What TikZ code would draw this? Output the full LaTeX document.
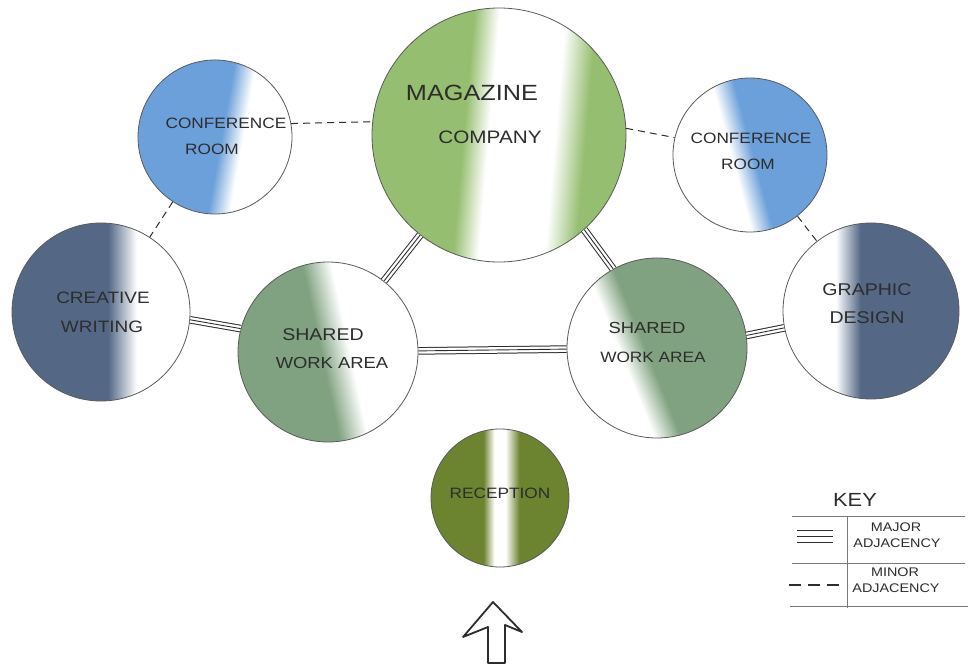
\documentclass[tikz,border=0pt]{standalone}
\usepackage{fontspec}
\newfontfamily\hand[FakeStretch=1.15]{Liberation Sans}
\definecolor{confblue}{RGB}{108,160,218}
\definecolor{slate}{RGB}{84,104,134}
\definecolor{sage}{RGB}{128,162,128}
\definecolor{maggreen}{RGB}{150,190,112}
\definecolor{olive}{RGB}{108,132,48}
\definecolor{inkc}{RGB}{45,45,45}
\definecolor{rimc}{RGB}{90,90,90}
\definecolor{keyc}{RGB}{120,120,120}
\pgfdeclarehorizontalshading{shconfL}{100bp}{color(0bp)=(confblue); color(52bp)=(confblue); color(59bp)=(white); color(100bp)=(white)}
\pgfdeclarehorizontalshading{shconfR}{100bp}{color(0bp)=(white); color(44bp)=(white); color(51bp)=(confblue); color(100bp)=(confblue)}
\pgfdeclarehorizontalshading{shcreat}{100bp}{color(0bp)=(slate); color(52bp)=(slate); color(60bp)=(white); color(100bp)=(white)}
\pgfdeclarehorizontalshading{shgraph}{100bp}{color(0bp)=(white); color(40bp)=(white); color(47bp)=(slate); color(100bp)=(slate)}
\pgfdeclarehorizontalshading{shsharL}{100bp}{color(0bp)=(sage); color(48bp)=(sage); color(56bp)=(white); color(100bp)=(white)}
\pgfdeclarehorizontalshading{shsharR}{100bp}{color(0bp)=(white); color(40bp)=(white); color(47bp)=(sage); color(100bp)=(sage)}
\pgfdeclarehorizontalshading{shmag}{100bp}{color(0bp)=(maggreen); color(43bp)=(maggreen); color(48bp)=(white); color(61bp)=(white); color(67bp)=(maggreen); color(100bp)=(maggreen)}
\pgfdeclarehorizontalshading{shrecep}{100bp}{color(0bp)=(olive); color(44bp)=(olive); color(48bp)=(white); color(52bp)=(white); color(57bp)=(olive); color(100bp)=(olive)}
\tikzset{
  room/.style={circle, draw=rimc, line width=0.8pt, inner sep=0pt, minimum size=#1, shade},
  major/.style={draw=inkc, line width=0.9pt,
    preaction={draw=inkc, line width=7.6pt},
    preaction={draw=white, line width=5.6pt}},
  minor/.style={draw=inkc, line width=1pt, dash pattern=on 7pt off 5pt},
  lbl/.style={font=\hand\fontsize{#1}{#1}\selectfont, text=inkc, inner sep=0pt},
  keyline/.style={draw=keyc, line width=0.8pt}
}
\begin{document}
\begin{tikzpicture}[x=1pt,y=-1pt]
\useasboundingbox[fill=white] (0,0) rectangle (977,671);

% rooms
\node[room=254pt, shading=shmag, shading angle=-5] (mag) at (499,135) {};
\node[room=154pt, shading=shconfL, shading angle=-10] (confL) at (215,137) {};
\node[room=154pt, shading=shconfR, shading angle=15] (confR) at (750,155) {};
\node[room=178pt, shading=shcreat] (creat) at (101,312) {};
\node[room=176pt, shading=shgraph] (graph) at (871,311) {};
\node[room=180pt, shading=shsharL, shading angle=12] (sharL) at (328,352) {};
\node[room=180pt, shading=shsharR, shading angle=22] (sharR) at (657,348) {};
\node[room=138pt, shading=shrecep] (recep) at (500,498) {};

% major adjacencies
\draw[major] (mag) -- (sharL);
\draw[major] (mag.-48) -- (sharR.119);
\draw[major] (sharL) -- (sharR);
\draw[major] (creat.-5) -- (sharL.165);
\draw[major] (sharR.8) -- (graph.191);

% minor adjacencies
\draw[minor] (confL.10) -- (mag.174);
\draw[minor] (confL) -- (creat);
\draw[minor] (mag.3) -- (confR.167);
\draw[minor] (confR) -- (graph);

% labels
\node[lbl=15] (tconfL1) at (226,123) {CONFERENCE};
\node[lbl=15] (tconfL2) at (212,149) {ROOM};
\node[lbl=22] (tmag1) at (472,93) {MAGAZINE};
\node[lbl=18] (tmag2) at (490,137) {COMPANY};
\node[lbl=15] (tconfR1) at (751,138) {CONFERENCE};
\node[lbl=15] (tconfR2) at (748,164) {ROOM};
\node[lbl=16.5] (tcreat1) at (103,298) {CREATIVE};
\node[lbl=16.5] (tcreat2) at (102,327) {WRITING};
\node[lbl=17] (tsharL1) at (323,335) {SHARED};
\node[lbl=16] (tsharL2) at (332,363) {WORK AREA};
\node[lbl=16] (tsharR1) at (647,328) {SHARED};
\node[lbl=15] (tsharR2) at (653,357) {WORK AREA};
\node[lbl=17] (tgraph1) at (867,290) {GRAPHIC};
\node[lbl=17] (tgraph2) at (867,318) {DESIGN};
\node[lbl=15] (trecep) at (500,493) {RECEPTION};

% entry arrow
\draw[inkc, line width=1.8pt, line join=round, fill=white]
  (488,663) -- (488,627) -- (463,637) -- (493,602) -- (522,632) -- (505,625) -- (505,663) -- cycle;

% key
\node[lbl=19] (tkey) at (855,500) {KEY};
\draw[keyline] (792,516) -- (965,516);
\draw[keyline] (792,563) -- (965,563);
\draw[keyline] (790,606) -- (968,606);
\draw[keyline] (847,516) -- (847,608);
\coordinate (kmA) at (797,536.5);
\coordinate (kmB) at (833,536.5);
\draw[inkc, line width=1.1pt] ([yshift=6pt]kmA) -- ([yshift=6pt]kmB);
\draw[inkc, line width=1.1pt] (kmA) -- (kmB);
\draw[inkc, line width=1.1pt] ([yshift=-6pt]kmA) -- ([yshift=-6pt]kmB);
\coordinate (knA) at (789,585);
\coordinate (knB) at (842,585);
\draw[inkc, line width=1.2pt, dash pattern=on 12pt off 7pt] (knA) -- (knB);
\node[lbl=12.5] (tmaj1) at (896,527) {MAJOR};
\node[lbl=12.5] (tmaj2) at (897,543) {ADJACENCY};
\node[lbl=12.5] (tmin1) at (895,572) {MINOR};
\node[lbl=12.5] (tmin2) at (896,588) {ADJACENCY};
\end{tikzpicture}
\end{document}
